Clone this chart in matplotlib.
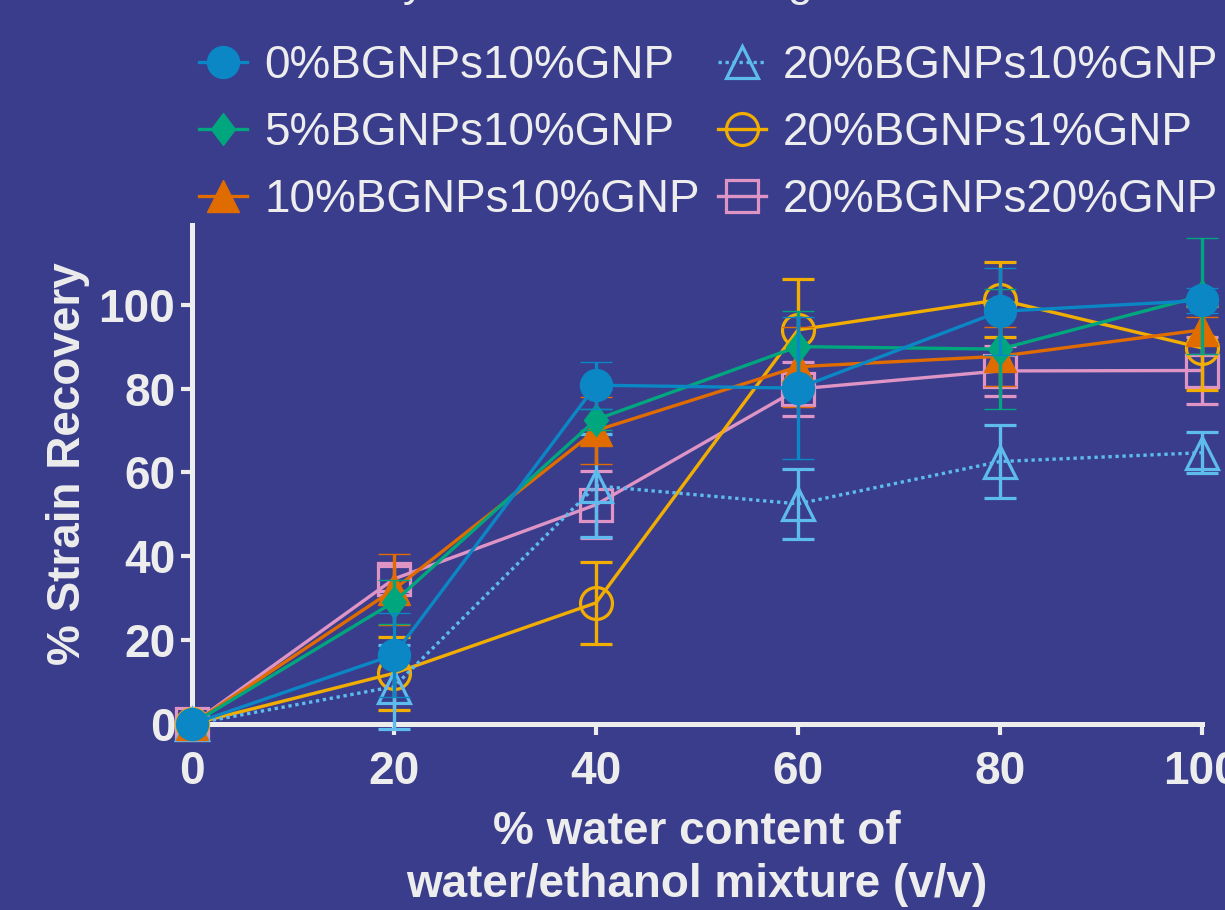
import matplotlib
matplotlib.use("Agg")
import matplotlib.pyplot as plt
from matplotlib.path import Path

# ---- data ----
x_water = [0, 20, 40, 60, 80, 100]

labels = ["0%BGNPs10%GNP", "5%BGNPs10%GNP", "10%BGNPs10%GNP",
          "20%BGNPs10%GNP", "20%BGNPs1%GNP", "20%BGNPs20%GNP"]

mean_0_10 = [0, 16.5, 80.8, 80.1, 98.4, 101.0]
err_0_10 = [0, 10.0, 5.6, 16.9, 10.3, 3.0]

mean_5_10 = [0, 29.1, 72.6, 90.0, 89.4, 102.1]
err_5_10 = [0, 5.3, 2.5, 8.4, 14.3, 13.8]

mean_10_10 = [0, 32.1, 70.0, 85.2, 87.7, 94.0]
err_10_10 = [0, 8.5, 8.0, 9.5, 7.0, 3.0]

mean_20_10 = [0, 8.9, 56.8, 52.5, 62.6, 64.7]
err_20_10 = [0, 10.0, 12.3, 8.3, 8.7, 4.9]

mean_20_1 = [0, 12.1, 28.9, 94.0, 101.2, 89.7]
err_20_1 = [0, 8.7, 9.8, 12.2, 8.9, 10.0]

mean_20_20 = [0, 34.6, 52.3, 79.9, 84.2, 84.3]
err_20_20 = [0, 3.0, 8.0, 6.4, 6.0, 8.0]

x_ticks = [0, 20, 40, 60, 80, 100]
y_ticks = [0, 20, 40, 60, 80, 100]

title_text = "Strain recovery at different soaking conditions"
xlabel_text = "% water content of\nwater/ethanol mixture (v/v)"
ylabel_text = "% Strain Recovery"

# ---- style ----
BG = "#3A3D8C"
FG = "#EDEDED"
colors = ["#0A87C4", "#00A77E", "#E06C00", "#5EBBEE", "#F2AE00", "#DE94C4"]

diamond = Path([(0, 1), (0.75, 0), (0, -1), (-0.75, 0), (0, 1)],
               [Path.MOVETO, Path.LINETO, Path.LINETO, Path.LINETO, Path.CLOSEPOLY])
markers = ["o", diamond, "^", "^", "o", "s"]
filled = [True, True, True, False, False, False]
linestyles = ["-", "-", "-", (0, (1, 1.1)), "-", "-"]

plt.rcParams["font.family"] = ["Liberation Sans", "DejaVu Sans"]

fig = plt.figure(figsize=(12.25, 9.10), dpi=100, facecolor=BG)
W, H = 1225, 910
ax = fig.add_axes([192 / W, 1 - 724 / H, (1202 - 192) / W, (724 - 225) / H])
ax.set_facecolor(BG)

means = [mean_0_10, mean_5_10, mean_10_10, mean_20_10, mean_20_1, mean_20_20]
errs = [err_0_10, err_5_10, err_10_10, err_20_10, err_20_1, err_20_20]

handles = [None] * 6
for i in reversed(range(6)):
    c = colors[i]
    z = 3 + (6 - i)
    cont = ax.errorbar(x_water, means[i], yerr=errs[i], color=c, ecolor=c,
                       lw=2.4, ls=linestyles[i], marker=markers[i],
                       ms=23,
                       mfc=c if filled[i] else "none", mec=c,
                       mew=1 if filled[i] else 2.3,
                       capsize=11.5, capthick=2.6, elinewidth=2.4,
                       zorder=z)
    for art in cont.get_children():
        art.set_clip_on(False)
        art.set_zorder(z)
    handles[i] = cont[0]

ax.set_xlim(0, 100)
ax.set_ylim(0, 119)
ax.set_xticks(x_ticks)
ax.set_yticks(y_ticks)
ax.set_xticklabels([str(t) for t in x_ticks], fontweight="bold")
ax.set_yticklabels([str(t) for t in y_ticks], fontweight="bold")

for s in ["top", "right"]:
    ax.spines[s].set_visible(False)
for s in ["left", "bottom"]:
    ax.spines[s].set_color(FG)
    ax.spines[s].set_linewidth(3.6)
    ax.spines[s].set_zorder(2.5)

ax.tick_params(axis="both", direction="out", length=8, width=3, color=FG,
               labelcolor=FG, labelsize=33)
ax.tick_params(axis="x", pad=11)
ax.tick_params(axis="y", pad=4)

ax.set_ylabel(ylabel_text, fontsize=33, fontweight="bold", color=FG)
ax.yaxis.set_label_coords(-0.101, 0.521)
ax.set_xlabel(xlabel_text, fontsize=33, fontweight="bold", color=FG,
              linespacing=1.27)
ax.xaxis.set_label_coords(0.5, -0.172)

leg = ax.legend(handles, labels, ncol=2, loc="upper left",
                bbox_to_anchor=(199 / W, 1 - 44 / H),
                bbox_transform=fig.transFigure, frameon=False,
                prop={"size": 33, "weight": "normal"},
                handlelength=1.05, handletextpad=0.37, columnspacing=0.4,
                labelspacing=0.5, borderpad=0, borderaxespad=0)
for t in leg.get_texts():
    t.set_color(FG)

fig.text(126 / W, 1 + 4 / H, title_text, fontsize=32, color=FG,
         ha="left", va="baseline")

fig.savefig("out.png", dpi=100, facecolor=BG)
